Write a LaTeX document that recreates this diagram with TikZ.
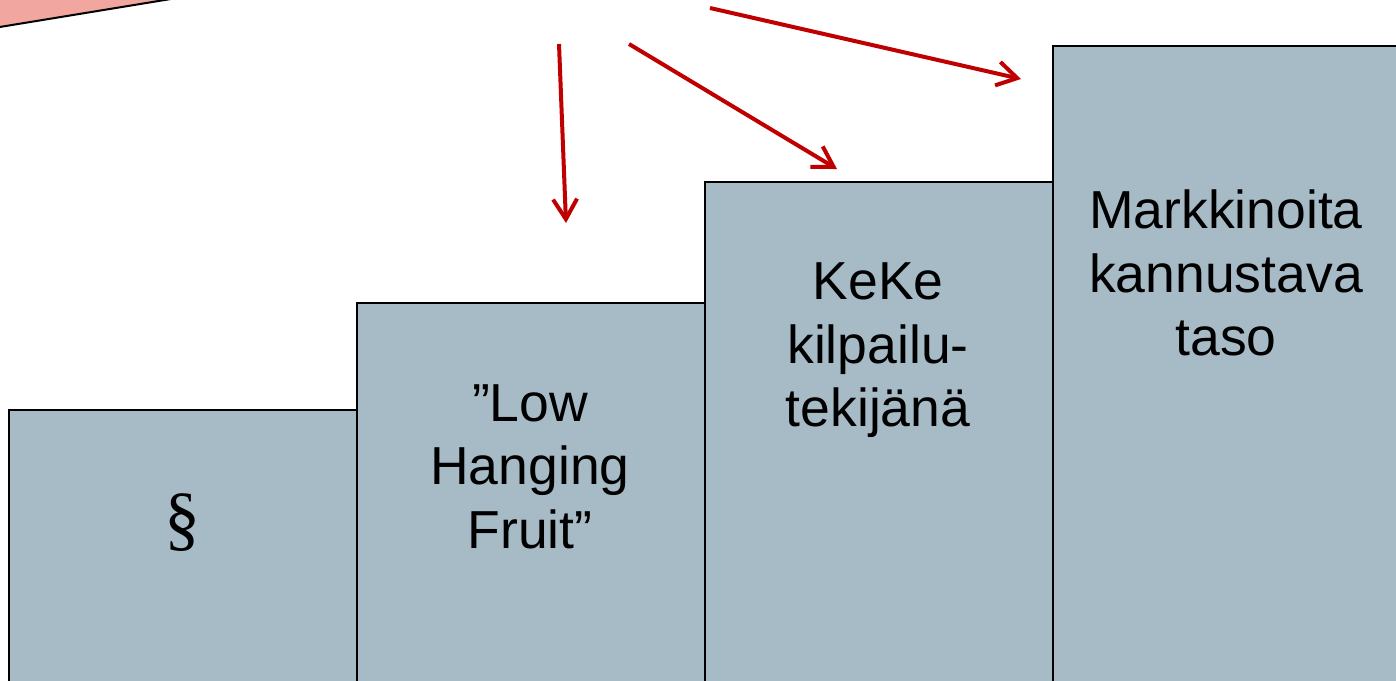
\documentclass[tikz,border=0pt]{standalone}
\usepackage{fontspec}
\setmainfont{Liberation Sans}
\newfontfamily\lawfont{Liberation Serif}
\usetikzlibrary{positioning,arrows.meta}
\definecolor{stairblue}{RGB}{167,187,199}
\definecolor{calloutpink}{RGB}{242,166,160}
\definecolor{arrowred}{RGB}{192,0,0}

\begin{document}
\begin{tikzpicture}[x=1pt, y=-1pt,
    stair box/.style={draw=black, line width=1.5pt, fill=stairblue, rectangle, minimum width=348pt, anchor=north west, inner sep=0pt},
    stair text/.style={align=center, inner sep=0pt, font=\fontsize{53.5}{63.5}\selectfont},
    red arrow/.style={draw=arrowred, line width=4pt, -{Straight Barb[length=20pt,width=24pt]}}]
    \useasboundingbox (0,0) rectangle (1396,680);
    \clip (0,0) rectangle (1396,680);

    % callout, only its corner is visible
    \filldraw[fill=calloutpink, draw=black, line width=2pt] (-10,28.6) -- (183,-3) -- (-10,-3) -- cycle;

    % the steps
    \node[stair box, minimum height=300pt] (law) at (8,409) {};
    \node[stair box, minimum height=400pt] (fruit) at (356,302) {};
    \node[stair box, minimum height=520pt] (keke) at (704,181) {};
    \node[stair box, minimum height=660pt] (market) at (1052,45) {};

    \node[stair text, font=\lawfont\fontsize{72}{63.5}\selectfont] (law text) at (182,523) {\S};
    \node[stair text] (fruit text) at (530,466.5) {”Low\\Hanging\\Fruit”};
    \node[stair text] (keke text) at (878,350.5) {KeKe\\kilpailu-\\tekijänä};
    \node[stair text] (market text) at (1226,273) {Markkinoita\\kannustava\\taso};

    % arrows from the callout
    \coordinate (from fruit) at (559,44);
    \coordinate (to fruit) at (566,223);
    \coordinate (from keke) at (629,44);
    \coordinate (to keke) at (837,169);
    \coordinate (from market) at (710,8);
    \coordinate (to market) at (1021,79);

    \draw[red arrow] (from fruit) -- (to fruit);
    \draw[red arrow] (from keke) -- (to keke);
    \draw[red arrow] (from market) -- (to market);
\end{tikzpicture}
\end{document}
